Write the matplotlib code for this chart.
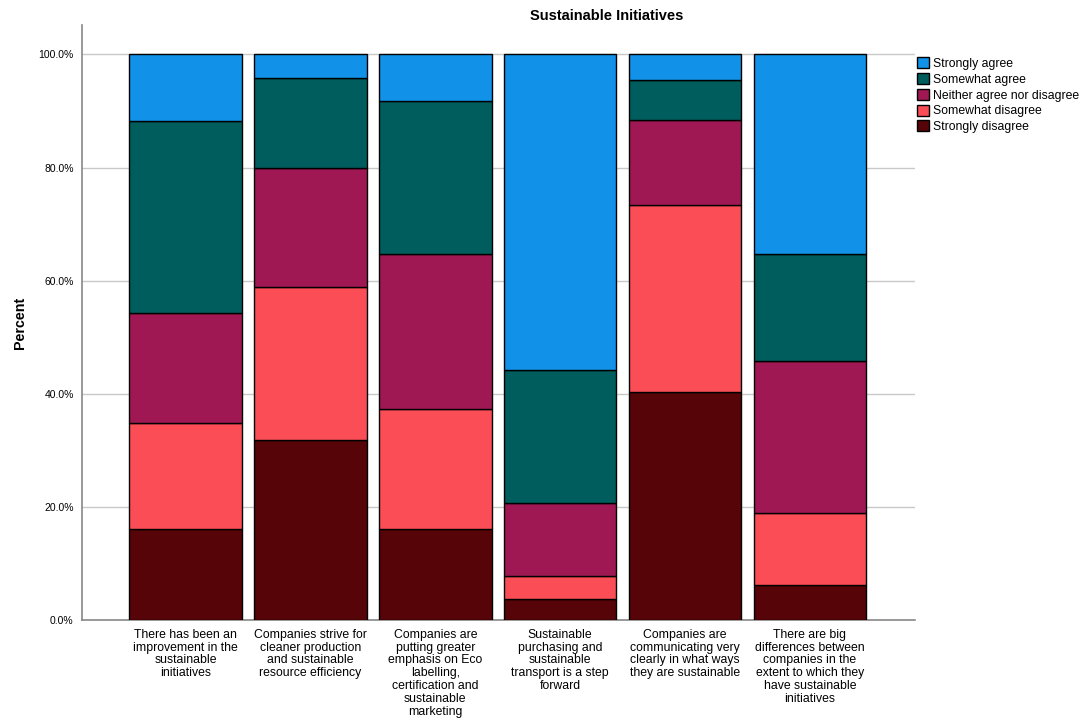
import matplotlib.pyplot as plt
import numpy as np

# statements (x categories)
statements = [
    'There has been an\nimprovement in the\nsustainable\ninitiatives',
    'Companies strive for\ncleaner production\nand sustainable\nresource efficiency',
    'Companies are\nputting greater\nemphasis on Eco\nlabelling,\ncertification and\nsustainable\nmarketing',
    'Sustainable\npurchasing and\nsustainable\ntransport is a step\nforward',
    'Companies are\ncommunicating very\nclearly in what ways\nthey are sustainable',
    'There are big\ndifferences between\ncompanies in the\nextent to which they\nhave sustainable\ninitiatives',
]

# percent per answer, bottom to top
strongly_disagree = [16.1, 31.9, 16.1, 3.7, 40.3, 6.2]
somewhat_disagree = [18.7, 27.0, 21.3, 4.2, 33.0, 12.7]
neither = [19.5, 21.1, 27.4, 12.9, 15.1, 26.9]
somewhat_agree = [34.0, 15.9, 26.9, 23.4, 7.1, 19.0]
strongly_agree = [11.7, 4.1, 8.3, 55.8, 4.5, 35.2]

answers = ['Strongly disagree', 'Somewhat disagree', 'Neither agree nor disagree',
           'Somewhat agree', 'Strongly agree']
colors = ['#570408', '#FA4D56', '#9F1853', '#005D5D', '#1192E8']

plt.rcParams['font.family'] = ['Liberation Sans', 'DejaVu Sans']

fig = plt.figure(figsize=(10.83, 7.2), dpi=100)
ax = fig.add_axes([0.0757, 0.1385, 0.769, 0.8268])

x = np.arange(len(statements))
bottom = np.zeros(len(statements))
bars = []
for name, vals, c in zip(answers, [strongly_disagree, somewhat_disagree, neither,
                                   somewhat_agree, strongly_agree], colors):
    b = ax.bar(x, vals, 0.9, bottom=bottom, color=c, edgecolor='black',
               linewidth=1, label=name, zorder=3)
    bars.append(b)
    bottom += np.array(vals)

ax.set_xlim(-0.83, 5.84)
ax.set_ylim(0, 105.2)
ax.set_yticks([0, 20, 40, 60, 80, 100])
ax.set_yticklabels(['%.1f%%' % v for v in [0, 20, 40, 60, 80, 100]], fontsize=7.5)
ax.yaxis.grid(True, color='#c8c8c8', linewidth=1, zorder=0)
ax.set_axisbelow(True)
ax.tick_params(length=0, pad=6)

ax.set_xticks(x)
ax.set_xticklabels(statements, fontsize=8.8, linespacing=1.1)

for s in ['top', 'right']:
    ax.spines[s].set_visible(False)
for s in ['left', 'bottom']:
    ax.spines[s].set_color('#888888')
    ax.spines[s].set_linewidth(1.2)

ax.set_ylabel('Percent', fontsize=10.3, fontweight='bold', labelpad=8)
fig.text(607 / 1083, 1 - 16 / 720, 'Sustainable Initiatives', fontsize=10.5,
         fontweight='bold', ha='center', va='center')

handles = bars[::-1]
fig.legend(handles, answers[::-1], loc='upper left', bbox_to_anchor=(0.842, 0.927),
           frameon=False, fontsize=8.8, handlelength=1.0, handleheight=1.0,
           handletextpad=0.3, labelspacing=0.25, borderaxespad=0)

fig.savefig('out.png', dpi=100)
